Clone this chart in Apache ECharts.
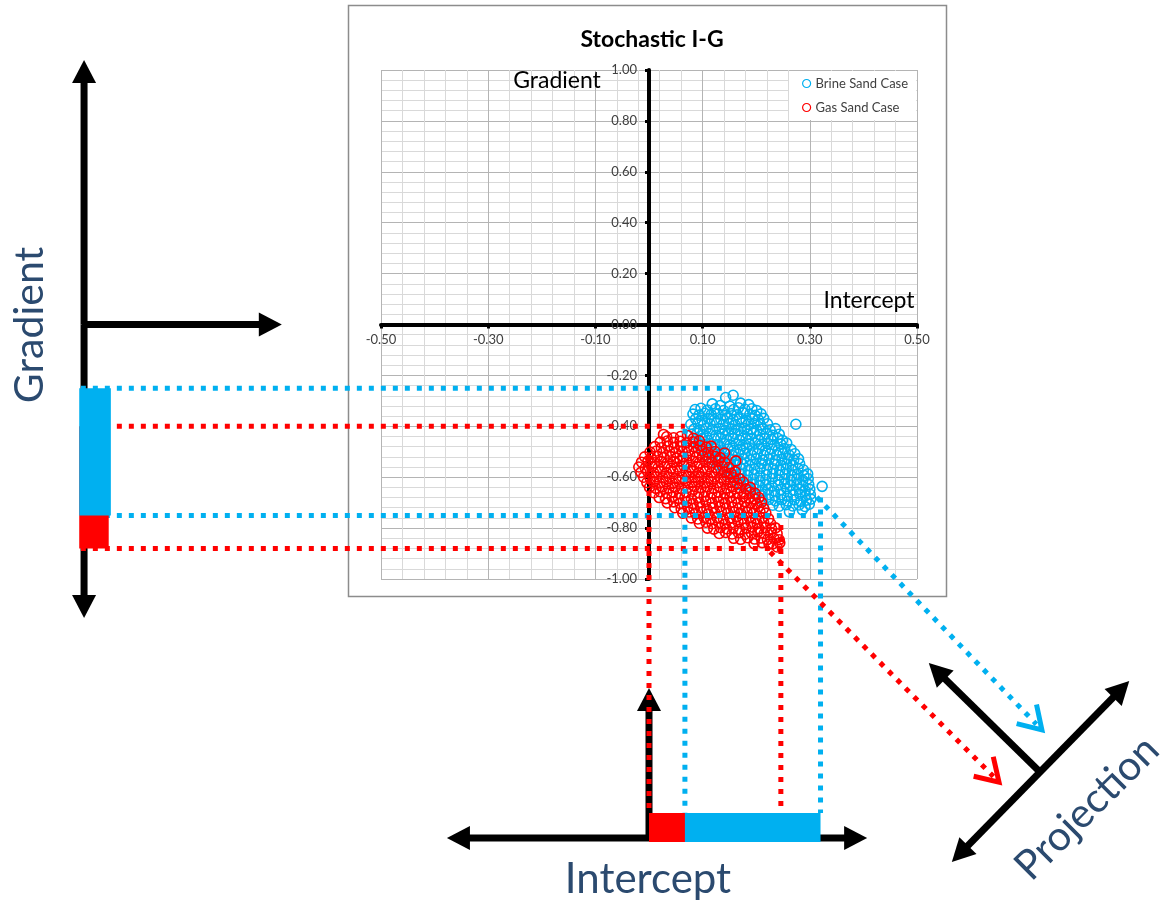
<!DOCTYPE html>
<html>
<head>
<meta charset="utf-8">
<script src="https://cdn.jsdelivr.net/npm/echarts@6/dist/echarts.min.js"></script>
<style>
  html, body { margin: 0; padding: 0; background: #ffffff; }
  #chart { width: 1164px; height: 901px; }
</style>
</head>
<body>
<div id="chart"></div>
<script>
// ---- Axis ticks -----------------------------------------------------------
const interceptTicks = [-0.5, -0.3, -0.1, 0.1, 0.3, 0.5];
const gradientTicks  = [-1.0, -0.8, -0.6, -0.4, -0.2, 0.0, 0.2, 0.4, 0.6, 0.8, 1.0];

// ---- Realisations: [intercept, gradient] ----------------------------------
const brineSand = [
  [0.157,-0.278],[0.143,-0.287],[0.274,-0.392],[0.323,-0.636],[0.262,-0.736],[0.286,-0.728],
  [0.118,-0.312],[0.133,-0.318],[0.171,-0.309],[0.186,-0.315],[0.151,-0.321],
  [0.086,-0.334],[0.097,-0.329],[0.109,-0.336],[0.124,-0.331],[0.139,-0.338],[0.158,-0.334],[0.167,-0.327],[0.179,-0.333],[0.192,-0.331],[0.201,-0.338],
  [0.082,-0.352],[0.093,-0.356],[0.104,-0.349],[0.116,-0.354],[0.129,-0.351],[0.142,-0.357],[0.153,-0.350],[0.164,-0.355],[0.176,-0.348],[0.188,-0.353],[0.198,-0.357],[0.209,-0.351],
  [0.087,-0.371],[0.099,-0.376],[0.111,-0.369],[0.122,-0.374],[0.134,-0.372],[0.146,-0.368],[0.157,-0.375],[0.169,-0.371],[0.181,-0.377],[0.193,-0.370],[0.204,-0.374],[0.214,-0.369],
  [0.078,-0.392],[0.091,-0.388],[0.102,-0.394],[0.114,-0.390],[0.126,-0.386],[0.138,-0.393],[0.149,-0.389],[0.161,-0.395],[0.173,-0.387],[0.185,-0.392],[0.196,-0.389],[0.208,-0.394],[0.221,-0.390],
  [0.084,-0.411],[0.095,-0.415],[0.107,-0.408],[0.119,-0.413],[0.131,-0.409],[0.142,-0.416],[0.154,-0.410],[0.166,-0.414],[0.178,-0.408],[0.190,-0.412],[0.201,-0.417],[0.213,-0.410],[0.226,-0.414],[0.236,-0.409],
  [0.079,-0.432],[0.090,-0.428],[0.101,-0.434],[0.113,-0.430],[0.125,-0.435],[0.137,-0.429],[0.148,-0.433],[0.160,-0.428],[0.172,-0.434],[0.184,-0.431],[0.195,-0.427],[0.207,-0.433],[0.219,-0.429],[0.231,-0.435],[0.243,-0.431],
  [0.088,-0.452],[0.099,-0.448],[0.110,-0.455],[0.122,-0.450],[0.134,-0.446],[0.145,-0.453],[0.157,-0.449],[0.169,-0.455],[0.181,-0.450],[0.192,-0.447],[0.204,-0.454],[0.216,-0.449],[0.228,-0.452],[0.240,-0.447],[0.249,-0.455],
  [0.092,-0.471],[0.104,-0.475],[0.116,-0.469],[0.128,-0.473],[0.140,-0.468],[0.151,-0.474],[0.163,-0.470],[0.175,-0.476],[0.187,-0.470],[0.198,-0.466],[0.210,-0.472],[0.222,-0.468],[0.234,-0.474],[0.246,-0.470],[0.257,-0.466],
  [0.099,-0.490],[0.111,-0.494],[0.123,-0.488],[0.135,-0.493],[0.147,-0.489],[0.158,-0.495],[0.170,-0.490],[0.182,-0.486],[0.194,-0.492],[0.205,-0.488],[0.217,-0.494],[0.229,-0.489],[0.241,-0.493],[0.253,-0.487],[0.265,-0.491],
  [0.108,-0.512],[0.120,-0.508],[0.132,-0.514],[0.144,-0.509],[0.155,-0.515],[0.167,-0.510],[0.179,-0.506],[0.191,-0.512],[0.202,-0.508],[0.214,-0.514],[0.226,-0.509],[0.238,-0.513],[0.250,-0.507],[0.261,-0.512],[0.272,-0.508],
  [0.118,-0.531],[0.130,-0.527],[0.142,-0.533],[0.153,-0.529],[0.165,-0.534],[0.177,-0.528],[0.189,-0.532],[0.200,-0.527],[0.212,-0.533],[0.224,-0.529],[0.236,-0.535],[0.248,-0.530],[0.259,-0.526],[0.270,-0.532],[0.279,-0.528],
  [0.128,-0.550],[0.140,-0.554],[0.152,-0.548],[0.163,-0.553],[0.175,-0.549],[0.187,-0.555],[0.198,-0.550],[0.210,-0.546],[0.222,-0.552],[0.234,-0.548],[0.246,-0.554],[0.257,-0.549],[0.268,-0.553],[0.281,-0.547],
  [0.138,-0.571],[0.150,-0.567],[0.162,-0.573],[0.173,-0.568],[0.185,-0.574],[0.197,-0.569],[0.208,-0.565],[0.220,-0.571],[0.232,-0.567],[0.244,-0.573],[0.256,-0.568],[0.267,-0.572],[0.278,-0.566],[0.288,-0.571],
  [0.149,-0.590],[0.161,-0.594],[0.172,-0.588],[0.184,-0.593],[0.196,-0.589],[0.207,-0.595],[0.219,-0.590],[0.231,-0.586],[0.243,-0.592],[0.254,-0.588],[0.266,-0.594],[0.277,-0.589],[0.289,-0.593],[0.296,-0.587],
  [0.160,-0.611],[0.172,-0.607],[0.183,-0.613],[0.195,-0.608],[0.207,-0.614],[0.218,-0.609],[0.230,-0.605],[0.242,-0.611],[0.253,-0.607],[0.265,-0.613],[0.276,-0.608],[0.287,-0.612],[0.297,-0.606],
  [0.171,-0.630],[0.183,-0.634],[0.195,-0.628],[0.206,-0.633],[0.218,-0.629],[0.229,-0.635],[0.241,-0.630],[0.253,-0.626],[0.264,-0.632],[0.276,-0.628],[0.287,-0.634],[0.298,-0.629],
  [0.188,-0.651],[0.199,-0.647],[0.211,-0.653],[0.222,-0.648],[0.234,-0.654],[0.246,-0.649],[0.257,-0.645],[0.269,-0.651],[0.280,-0.647],[0.291,-0.653],[0.300,-0.648],
  [0.199,-0.670],[0.211,-0.674],[0.223,-0.668],[0.235,-0.673],[0.246,-0.669],[0.258,-0.675],[0.269,-0.670],[0.281,-0.666],[0.292,-0.672],[0.301,-0.668],
  [0.212,-0.691],[0.224,-0.687],[0.236,-0.693],[0.248,-0.688],[0.259,-0.694],[0.271,-0.689],[0.283,-0.695],[0.294,-0.690],[0.302,-0.686],
  [0.231,-0.710],[0.243,-0.714],[0.256,-0.708],[0.268,-0.713],[0.280,-0.709],[0.291,-0.715],[0.299,-0.706]
];

const gasSand = [
  [0.162,-0.536],[0.027,-0.432],[0.072,-0.436],[0.141,-0.505],[0.239,-0.874],[0.231,-0.862],
  [0.033,-0.441],[0.046,-0.445],[0.059,-0.440],[0.083,-0.447],
  [0.021,-0.462],[0.034,-0.458],[0.046,-0.464],[0.058,-0.459],[0.070,-0.465],[0.082,-0.461],[0.094,-0.457],
  [0.011,-0.480],[0.023,-0.484],[0.035,-0.478],[0.047,-0.483],[0.059,-0.479],[0.071,-0.485],[0.083,-0.480],[0.095,-0.476],[0.107,-0.482],[0.116,-0.478],
  [0.002,-0.501],[0.014,-0.497],[0.026,-0.503],[0.038,-0.498],[0.050,-0.504],[0.062,-0.499],[0.074,-0.495],[0.086,-0.501],[0.098,-0.497],[0.110,-0.503],[0.123,-0.499],
  [-0.008,-0.520],[0.004,-0.524],[0.016,-0.518],[0.028,-0.523],[0.040,-0.519],[0.052,-0.525],[0.064,-0.520],[0.076,-0.516],[0.088,-0.522],[0.100,-0.518],[0.112,-0.524],[0.124,-0.519],[0.133,-0.523],
  [-0.014,-0.541],[-0.002,-0.537],[0.010,-0.543],[0.022,-0.538],[0.034,-0.544],[0.046,-0.539],[0.058,-0.535],[0.070,-0.541],[0.082,-0.537],[0.094,-0.543],[0.106,-0.538],[0.118,-0.542],[0.130,-0.536],[0.141,-0.541],
  [-0.019,-0.560],[-0.007,-0.564],[0.005,-0.558],[0.017,-0.563],[0.029,-0.559],[0.041,-0.565],[0.053,-0.560],[0.065,-0.556],[0.077,-0.562],[0.089,-0.558],[0.101,-0.564],[0.113,-0.559],[0.125,-0.563],[0.137,-0.557],[0.149,-0.562],
  [-0.015,-0.581],[-0.003,-0.577],[0.009,-0.583],[0.021,-0.578],[0.033,-0.584],[0.045,-0.579],[0.057,-0.575],[0.069,-0.581],[0.081,-0.577],[0.093,-0.583],[0.105,-0.578],[0.117,-0.582],[0.129,-0.576],[0.141,-0.581],[0.153,-0.585],[0.161,-0.579],
  [-0.010,-0.600],[0.002,-0.604],[0.014,-0.598],[0.026,-0.603],[0.038,-0.599],[0.050,-0.605],[0.062,-0.600],[0.074,-0.596],[0.086,-0.602],[0.098,-0.598],[0.110,-0.604],[0.122,-0.599],[0.134,-0.603],[0.146,-0.597],[0.158,-0.602],[0.169,-0.606],
  [-0.004,-0.621],[0.008,-0.617],[0.020,-0.623],[0.032,-0.618],[0.044,-0.624],[0.056,-0.619],[0.068,-0.615],[0.080,-0.621],[0.092,-0.617],[0.104,-0.623],[0.116,-0.618],[0.128,-0.622],[0.140,-0.616],[0.152,-0.621],[0.164,-0.625],[0.176,-0.619],
  [0.001,-0.640],[0.013,-0.644],[0.025,-0.638],[0.037,-0.643],[0.049,-0.639],[0.061,-0.645],[0.073,-0.640],[0.085,-0.636],[0.097,-0.642],[0.109,-0.638],[0.121,-0.644],[0.133,-0.639],[0.145,-0.643],[0.157,-0.637],[0.169,-0.642],[0.181,-0.646],[0.189,-0.640],
  [0.009,-0.661],[0.021,-0.657],[0.033,-0.663],[0.045,-0.658],[0.057,-0.664],[0.069,-0.659],[0.081,-0.655],[0.093,-0.661],[0.105,-0.657],[0.117,-0.663],[0.129,-0.658],[0.141,-0.662],[0.153,-0.656],[0.165,-0.661],[0.177,-0.665],[0.189,-0.659],[0.198,-0.663],
  [0.019,-0.680],[0.031,-0.684],[0.043,-0.678],[0.055,-0.683],[0.067,-0.679],[0.079,-0.685],[0.091,-0.680],[0.103,-0.676],[0.115,-0.682],[0.127,-0.678],[0.139,-0.684],[0.151,-0.679],[0.163,-0.683],[0.175,-0.677],[0.187,-0.682],[0.198,-0.686],[0.205,-0.680],
  [0.034,-0.701],[0.046,-0.697],[0.058,-0.703],[0.070,-0.698],[0.082,-0.704],[0.094,-0.699],[0.106,-0.695],[0.118,-0.701],[0.130,-0.697],[0.142,-0.703],[0.154,-0.698],[0.166,-0.702],[0.178,-0.696],[0.190,-0.701],[0.201,-0.705],[0.210,-0.699],
  [0.048,-0.720],[0.060,-0.724],[0.072,-0.718],[0.084,-0.723],[0.096,-0.719],[0.108,-0.725],[0.120,-0.720],[0.132,-0.716],[0.144,-0.722],[0.156,-0.718],[0.168,-0.724],[0.180,-0.719],[0.192,-0.723],[0.204,-0.717],[0.214,-0.722],
  [0.063,-0.741],[0.075,-0.737],[0.087,-0.743],[0.099,-0.738],[0.111,-0.744],[0.123,-0.739],[0.135,-0.735],[0.147,-0.741],[0.159,-0.737],[0.171,-0.743],[0.183,-0.738],[0.195,-0.742],[0.207,-0.736],[0.218,-0.741],
  [0.079,-0.760],[0.091,-0.764],[0.103,-0.758],[0.115,-0.763],[0.127,-0.759],[0.139,-0.765],[0.151,-0.760],[0.163,-0.756],[0.175,-0.762],[0.187,-0.758],[0.199,-0.764],[0.211,-0.759],[0.223,-0.763],
  [0.094,-0.781],[0.106,-0.777],[0.118,-0.783],[0.130,-0.778],[0.142,-0.784],[0.154,-0.779],[0.166,-0.775],[0.178,-0.781],[0.190,-0.777],[0.202,-0.783],[0.214,-0.778],[0.227,-0.782],
  [0.109,-0.800],[0.121,-0.804],[0.133,-0.798],[0.145,-0.803],[0.157,-0.799],[0.169,-0.805],[0.181,-0.800],[0.193,-0.796],[0.205,-0.802],[0.217,-0.798],[0.229,-0.804],[0.236,-0.799],
  [0.131,-0.821],[0.143,-0.817],[0.155,-0.823],[0.167,-0.818],[0.179,-0.824],[0.191,-0.819],[0.203,-0.815],[0.215,-0.821],[0.227,-0.817],[0.239,-0.822],
  [0.158,-0.840],[0.171,-0.844],[0.184,-0.838],[0.197,-0.843],[0.209,-0.839],[0.221,-0.845],[0.233,-0.840],[0.243,-0.846],
  [0.196,-0.861],[0.211,-0.857],[0.224,-0.863],[0.244,-0.858]
];

// ---- Ranges spanned by each case ------------------------------------------
const brineGradientRange  = [-0.25, -0.75];
const gasGradientRange    = [-0.40, -0.88];
const brineInterceptRange = [0.067, 0.32];
const gasInterceptRange   = [0.0, 0.246];

// ---- Styling ---------------------------------------------------------------
const BLUE = '#00B0F0';
const RED = '#FF0000';
const NAVY = '#2B4A6F';
const FONT = 'Lato, "Open Sans", sans-serif';

// Plot box in pixels; the axes are shifted onto the zero lines
const GRID = { left: 381, right: 247, top: 70, bottom: 322 };
const PLOT_W = 1164 - GRID.left - GRID.right;
const PLOT_H = 901 - GRID.top - GRID.bottom;

// Schematic layout, expressed in the plot's own (intercept, gradient) units
const layout = {
  leftAxisX: -1.054, leftAxisTop: 1.039, leftAxisBottom: -1.153, leftArrowTipX: -0.685,
  leftBarX: [-1.063, -1.004],
  guideStartX: -1.06,
  guideEnd: { brineTop: 0.146, gasTop: 0.067, brineBottom: 0.32, gasBottom: 0.246 },
  guideTop: { gasLeft: -0.513, brineLeft: -0.41, gasRight: -0.788, brineRight: -0.68 },
  bottomAxisY: -2.018, bottomLeftTip: -0.377, bottomRightTip: 0.407, bottomUpTip: -1.428,
  bottomBarY: [-1.919, -2.033],
  brineProj: [[0.313, -0.678], [0.733, -1.593]],
  gasProj: [[0.226, -0.894], [0.653, -1.798]],
  projAxisA: [[0.728, -1.755], [0.522, -1.330]],
  projAxisB: [[0.565, -2.112], [0.896, -1.401]]
};

function renderSchematic(params, api) {
  const P = (x, y) => api.coord([x, y]);
  const kids = [];
  const unit = (a, b) => { const dx = b[0] - a[0], dy = b[1] - a[1]; const l = Math.hypot(dx, dy); return [dx / l, dy / l]; };

  const seg = (a, b, style) => kids.push({ type: 'line', shape: { x1: a[0], y1: a[1], x2: b[0], y2: b[1] }, style: style });
  const dotted = (a, b, color) => seg(a, b, { stroke: color, lineWidth: 5, lineDash: [5, 7], lineCap: 'butt' });

  // filled arrow head pointing from "from" to "tip" (pixels)
  const head = (from, tip, color) => {
    const d = unit(from, tip), len = 23, hw = 12;
    const bx = tip[0] - d[0] * len, by = tip[1] - d[1] * len;
    kids.push({ type: 'polygon', shape: { points: [tip, [bx - d[1] * hw, by + d[0] * hw], [bx + d[1] * hw, by - d[0] * hw]] }, style: { fill: color } });
    return [bx + d[0] * 2, by + d[1] * 2];
  };
  const arrow = (from, tip, w) => { const end = head(from, tip, '#000'); seg(from, end, { stroke: '#000', lineWidth: w }); };
  const doubleArrow = (a, b, w) => { const e1 = head(b, a, '#000'); const e2 = head(a, b, '#000'); seg(e1, e2, { stroke: '#000', lineWidth: w }); };
  // open chevron at the end of a projection guide
  const chevron = (from, tip, color) => {
    const d = unit(tip, from), len = 26, ang = 0.56;
    const c = Math.cos(ang), s = Math.sin(ang);
    const a1 = [tip[0] + (d[0] * c - d[1] * s) * len, tip[1] + (d[0] * s + d[1] * c) * len];
    const a2 = [tip[0] + (d[0] * c + d[1] * s) * len, tip[1] + (-d[0] * s + d[1] * c) * len];
    kids.push({ type: 'polyline', shape: { points: [a1, tip, a2] }, style: { stroke: color, lineWidth: 5, fill: null, lineJoin: 'miter' } });
  };
  const rect = (x0, y0, x1, y1, color) => {
    const p0 = P(x0, y0), p1 = P(x1, y1);
    kids.push({ type: 'rect', shape: { x: Math.min(p0[0], p1[0]), y: Math.min(p0[1], p1[1]), width: Math.abs(p1[0] - p0[0]), height: Math.abs(p1[1] - p0[1]) }, style: { fill: color } });
  };

  const L = layout;
  // Gradient-only view (left)
  arrow(P(L.leftAxisX, 0), P(L.leftAxisX, L.leftAxisTop), 7);
  arrow(P(L.leftAxisX, 0), P(L.leftAxisX, L.leftAxisBottom), 7);
  arrow(P(L.leftAxisX - 0.004, 0), P(L.leftArrowTipX, 0), 7);

  // Intercept-only view (bottom)
  doubleArrow(P(L.bottomLeftTip, L.bottomAxisY), P(L.bottomRightTip, L.bottomAxisY), 7);
  arrow(P(0, L.bottomAxisY), P(0, L.bottomUpTip), 7);

  // Projection view (lower right)
  arrow(P(L.projAxisA[0][0], L.projAxisA[0][1]), P(L.projAxisA[1][0], L.projAxisA[1][1]), 7);
  doubleArrow(P(L.projAxisB[0][0], L.projAxisB[0][1]), P(L.projAxisB[1][0], L.projAxisB[1][1]), 7);

  // horizontal guides: gradient limits
  dotted(P(L.guideStartX, brineGradientRange[0]), P(L.guideEnd.brineTop, brineGradientRange[0]), BLUE);
  dotted(P(L.guideStartX, gasGradientRange[0]), P(L.guideEnd.gasTop, gasGradientRange[0]), RED);
  dotted(P(L.guideStartX, brineGradientRange[1]), P(L.guideEnd.brineBottom, brineGradientRange[1]), BLUE);
  dotted(P(L.guideStartX, gasGradientRange[1]), P(L.guideEnd.gasBottom, gasGradientRange[1]), RED);

  // vertical guides: intercept limits
  dotted(P(gasInterceptRange[0], L.guideTop.gasLeft), P(gasInterceptRange[0], L.bottomBarY[0]), RED);
  dotted(P(brineInterceptRange[0], L.guideTop.brineLeft), P(brineInterceptRange[0], L.bottomBarY[0]), BLUE);
  dotted(P(gasInterceptRange[1], L.guideTop.gasRight), P(gasInterceptRange[1], L.bottomBarY[0]), RED);
  dotted(P(brineInterceptRange[1], L.guideTop.brineRight), P(brineInterceptRange[1], L.bottomBarY[0]), BLUE);

  // ranges on the single-attribute axes
  rect(L.leftBarX[0], gasGradientRange[0], L.leftBarX[1] - 0.004, gasGradientRange[1], RED);
  rect(L.leftBarX[0], brineGradientRange[0], L.leftBarX[1], brineGradientRange[1], BLUE);
  rect(gasInterceptRange[0], L.bottomBarY[0], gasInterceptRange[1], L.bottomBarY[1], RED);
  rect(brineInterceptRange[0], L.bottomBarY[0], brineInterceptRange[1], L.bottomBarY[1], BLUE);

  // diagonal projection guides
  const bp0 = P(L.brineProj[0][0], L.brineProj[0][1]), bp1 = P(L.brineProj[1][0], L.brineProj[1][1]);
  const gp0 = P(L.gasProj[0][0], L.gasProj[0][1]), gp1 = P(L.gasProj[1][0], L.gasProj[1][1]);
  const bd = unit(bp0, bp1), gd = unit(gp0, gp1);
  dotted(bp0, [bp1[0] - bd[0] * 8, bp1[1] - bd[1] * 8], BLUE);
  dotted(gp0, [gp1[0] - gd[0] * 8, gp1[1] - gd[1] * 8], RED);
  chevron(bp0, bp1, BLUE);
  chevron(gp0, gp1, RED);

  return { type: 'group', children: kids };
}

const chart = echarts.init(document.getElementById('chart'), null, { renderer: 'canvas' });

const fmt = v => v.toFixed(2);
const xMin = interceptTicks[0], xMax = interceptTicks[interceptTicks.length - 1];
const yMin = gradientTicks[0], yMax = gradientTicks[gradientTicks.length - 1];

chart.setOption({
  animation: false,
  backgroundColor: '#ffffff',
  textStyle: { fontFamily: FONT },
  title: {
    text: 'Stochastic I-G',
    left: 647, top: 23, textAlign: 'center',
    textStyle: { fontFamily: FONT, fontSize: 23, fontWeight: 'bold', color: '#000' }
  },
  grid: { left: GRID.left, right: GRID.right, top: GRID.top, bottom: GRID.bottom, containLabel: false },
  legend: {
    orient: 'vertical',
    left: 789, top: 71,
    padding: [6, 8, 6, 13],
    itemGap: 11,
    itemWidth: 8, itemHeight: 8,
    backgroundColor: '#ffffff',
    textStyle: { fontFamily: FONT, fontSize: 13, color: '#404040' },
    data: [
      { name: 'Brine Sand Case', icon: 'circle', itemStyle: { color: 'rgba(0,0,0,0)', borderColor: BLUE, borderWidth: 1.2 } },
      { name: 'Gas Sand Case', icon: 'circle', itemStyle: { color: 'rgba(0,0,0,0)', borderColor: RED, borderWidth: 1.2 } }
    ]
  },
  xAxis: {
    type: 'value',
    min: xMin, max: xMax, interval: 0.2,
    position: 'bottom',
    // move the axis (line, ticks, labels) up onto gradient = 0
    offset: -PLOT_H * (0 - yMin) / (yMax - yMin),
    axisLine: { onZero: false, lineStyle: { color: '#000', width: 4 } },
    axisTick: { show: true, length: 4, lineStyle: { color: '#000', width: 3 } },
    axisLabel: { formatter: fmt, fontFamily: FONT, fontSize: 13, color: '#404040', margin: 9 },
    splitLine: { show: true, lineStyle: { color: '#B4B4B4', width: 1 } },
    minorTick: { show: false, splitNumber: 5 },
    minorSplitLine: { show: true, lineStyle: { color: '#D9D9D9', width: 1 } }
  },
  yAxis: {
    type: 'value',
    min: yMin, max: yMax, interval: 0.2,
    position: 'left',
    // move the axis right onto intercept = 0
    offset: -PLOT_W * (0 - xMin) / (xMax - xMin),
    axisLine: { onZero: false, lineStyle: { color: '#000', width: 4 } },
    axisTick: { show: true, length: 4, lineStyle: { color: '#000', width: 3 } },
    axisLabel: { formatter: fmt, fontFamily: FONT, fontSize: 13, color: '#404040', margin: 12 },
    splitLine: { show: true, lineStyle: { color: '#B4B4B4', width: 1 } },
    minorTick: { show: false, splitNumber: 5 },
    minorSplitLine: { show: true, lineStyle: { color: '#D9D9D9', width: 1 } }
  },
  series: [
    {
      name: 'Brine Sand Case', type: 'scatter', data: brineSand,
      symbol: 'circle', symbolSize: 10, z: 3,
      itemStyle: { color: 'rgba(0,0,0,0)', borderColor: BLUE, borderWidth: 1.6, opacity: 1 },
      emphasis: { disabled: true }, silent: true
    },
    {
      name: 'Gas Sand Case', type: 'scatter', data: gasSand,
      symbol: 'circle', symbolSize: 10, z: 4,
      itemStyle: { color: 'rgba(0,0,0,0)', borderColor: RED, borderWidth: 1.6, opacity: 1 },
      emphasis: { disabled: true }, silent: true
    },
    {
      name: 'schematic', type: 'custom', data: [[0, 0]],
      renderItem: renderSchematic, clip: false, z: 6, silent: true
    }
  ],
  graphic: [
    { type: 'rect', z: -1, shape: { x: 348.5, y: 5.5, width: 598, height: 591 }, style: { fill: 'none', stroke: '#8C8C8C', lineWidth: 1.5 } },
    { type: 'text', x: 557, y: 81, z: 5, style: { text: 'Gradient', fontFamily: FONT, fontSize: 23, fill: '#000', align: 'center', verticalAlign: 'middle', textAlign: 'center', textVerticalAlign: 'middle' } },
    { type: 'text', x: 869, y: 301, z: 5, style: { text: 'Intercept', fontFamily: FONT, fontSize: 23, fill: '#000', align: 'center', verticalAlign: 'middle', textAlign: 'center', textVerticalAlign: 'middle' } },
    { type: 'text', x: 30, y: 325, rotation: Math.PI / 2, style: { text: 'Gradient', fontFamily: FONT, fontSize: 41, fill: NAVY, align: 'center', verticalAlign: 'middle', textAlign: 'center', textVerticalAlign: 'middle' } },
    { type: 'text', x: 648, y: 879, style: { text: 'Intercept', fontFamily: FONT, fontSize: 42, fill: NAVY, align: 'center', verticalAlign: 'middle', textAlign: 'center', textVerticalAlign: 'middle' } },
    { type: 'text', x: 1087, y: 808, rotation: Math.PI / 4, style: { text: 'Projection', fontFamily: FONT, fontSize: 41, fill: NAVY, align: 'center', verticalAlign: 'middle', textAlign: 'center', textVerticalAlign: 'middle' } }
  ]
});
</script>
</body>
</html>
